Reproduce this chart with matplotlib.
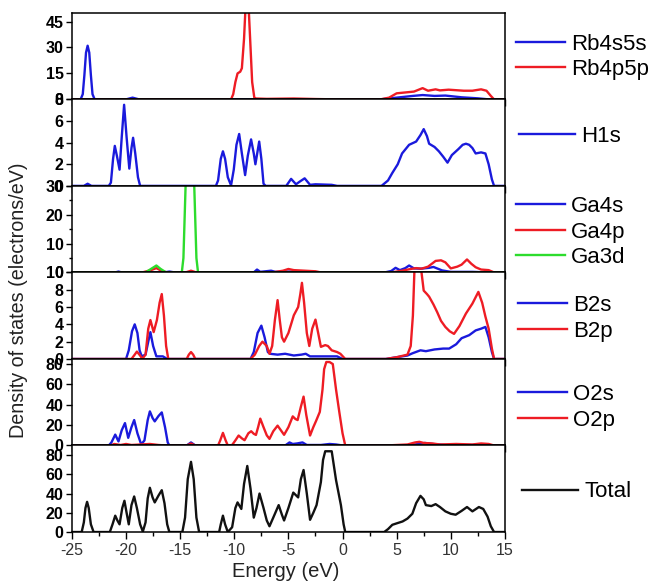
import numpy as np
import matplotlib
matplotlib.use("Agg")
import matplotlib.pyplot as plt
from matplotlib.ticker import MultipleLocator

plt.rcParams['font.family'] = ['Liberation Sans', 'DejaVu Sans']
plt.rcParams['axes.unicode_minus'] = False

BLUE = '#1a1adc'
RED = '#ee1c24'
GREEN = '#2ddc2d'
BLACK = '#111111'

# ---- panel 1 : Rb ----
rb_s_E = [-25, -24.2, -24.0, -23.85, -23.7, -23.55, -23.4, -23.25, -23.1, -22.9,
          -20.0, -19.4, -18.8, 3.5, 5.0, 6.5, 7.4, 8.5, 9.5, 11.0, 12.5, 13.5, 15]
rb_s = [0, 0, 3, 14, 27, 31, 27, 14, 3, 0,
        0, 1, 0, 0, 1.0, 2.0, 2.5, 2.0, 2.2, 1.2, 0.6, 0, 0]
rb_p_E = [-25, -10.3, -10.1, -9.9, -9.7, -9.45, -9.3, -9.1, -8.95, -8.8, -8.65, -8.5,
          -8.35, -8.15, -8.0, -7.0, -4.5, -2.5, -0.5, 3.5, 4.3, 5.0, 5.8, 6.6, 7.4,
          7.9, 8.6, 9.0, 9.8, 10.5, 11.2, 12.0, 12.8, 13.3, 13.7, 14.0, 15]
rb_p = [0, 0, 3, 10, 15, 16, 18, 35, 55, 60, 50, 30,
        10, 1, 0.5, 0.3, 0.5, 0.2, 0, 0, 1.0, 3.5, 4.0, 4.5, 6.5,
        5.0, 5.8, 5.2, 5.6, 5.3, 5.0, 5.0, 5.8, 5.0, 2.0, 0, 0]

# ---- panel 2 : H ----
h_E = [-25, -23.9, -23.55, -23.2, -21.6, -21.4, -21.2, -21.04, -20.85, -20.6, -20.4,
       -20.18, -19.95, -19.7, -19.5, -19.35, -19.15, -18.9, -18.7, -11.7, -11.5,
       -11.25, -11.05, -10.85, -10.6, -10.3, -10.05, -9.8, -9.55, -9.3, -9.0, -8.75,
       -8.45, -8.2, -8.05, -7.85, -7.7, -7.5, -7.3, -7.1, -5.2, -4.75, -4.3, -3.95,
       -3.5, -3.0, -2.5, -1.0, -0.5, 3.6, 4.2, 4.6, 5.1, 5.5, 6.15, 6.8, 7.2, 7.5,
       7.8, 8.0, 8.5, 8.9, 9.3, 9.7, 10.1, 10.7, 11.1, 11.4, 11.7, 12.0, 12.3, 12.8,
       13.2, 13.5, 13.8, 14.0, 15]
h_1s = [0, 0, 0.2, 0, 0, 0.3, 2.5, 3.7, 2.8, 1.5, 4.5,
        7.5, 4.5, 1.6, 3.5, 4.45, 3.0, 0.8, 0, 0, 0.5,
        2.5, 3.2, 2.5, 0.8, 0.05, 1.5, 3.8, 4.8, 3.0, 1.0, 2.8,
        4.3, 3.0, 2.0, 3.2, 4.1, 2.5, 0.2, 0, 0, 0.65, 0.15, 0.4,
        0.7, 0.1, 0.15, 0.1, 0, 0, 0.5, 1.2, 2.0, 3.0, 3.8, 4.1, 4.7, 5.25,
        4.6, 3.9, 3.6, 3.2, 2.7, 2.15, 2.85, 3.4, 3.8, 3.9, 3.8, 3.5, 3.0, 3.1,
        3.0, 2.0, 0.6, 0, 0]

# ---- panel 3 : Ga ----
ga_s_E = [-25, -21, -20.7, -20.4, -16.5, -16.0, -15.5, -8.2, -7.9, -7.6, -6.6, -6.2,
          -5, -2, 3.9, 4.5, 4.9, 5.3, 5.8, 6.15, 6.6, 7.2, 8.0, 8.4, 9.2, 10.0, 12,
          13.5, 15]
ga_s = [0, 0, 0.3, 0, 0, 0.3, 0, 0, 1.0, 0.2, 0.6, 0.2,
        0.3, 0, 0, 0.5, 1.6, 0.8, 1.5, 2.4, 1.4, 1.3, 1.6, 1.9, 0.7, 0.2, 0.2,
        0, 0]
ga_p_E = [-25, -18.5, -17.7, -17.2, -16.7, -16.2, -14.5, -14.0, -13.5, -6.5, -5.5,
          -5.0, -4.5, -3.5, -2.5, -2, 4.5, 5.5, 6.3, 6.8, 7.3, 7.9, 8.6, 9.1, 9.5,
          10.0, 10.6, 11.0, 11.5, 11.9, 12.3, 12.8, 13.5, 14.0, 15]
ga_p = [0, 0, 0.8, 1.5, 0.5, 0, 0, 0.6, 0, 0, 0.6,
        1.2, 0.8, 0.6, 0.4, 0, 0, 0.6, 1.2, 1.5, 1.3, 2.0, 4.0, 4.2, 3.5,
        1.4, 2.0, 2.7, 4.5, 3.0, 1.8, 1.0, 0.8, 0, 0]
ga_d_E = [-25, -18.2, -17.7, -17.2, -16.8, -16.3, -14.85, -14.7, -14.5, -14.3, -14.1,
          -13.9, -13.7, -13.5, -13.35, 15]
ga_d = [0, 0, 1.2, 2.4, 1.2, 0, 0, 5, 30, 60, 75,
        60, 30, 5, 0, 0]

# ---- panel 4 : B ----
b_s_E = [-25, -20.0, -19.75, -19.45, -19.2, -18.95, -18.75, -18.55, -18.2, -17.95,
         -17.75, -17.5, -17.2, -16.6, -16.2, -8.5, -8.2, -7.85, -7.5, -7.2, -6.9,
         -6.7, -6.0, -5.3, -4.5, -3.8, -3.4, -3.0, -1.5, -0.5, 0, 4.0, 5.0, 6.0,
         6.45, 7.2, 7.7, 8.5, 9.3, 9.85, 10.5, 11.0, 11.7, 12.3, 12.8, 13.2, 13.5,
         13.8, 14.0, 15]
b_s = [0, 0, 1.0, 3.2, 4.0, 3.0, 1.0, 0.3, 0.5, 2.0,
       3.1, 1.5, 0.3, 0.3, 0, 0, 0.8, 3.0, 3.85, 2.5, 0.8,
       0.6, 0.5, 0.6, 0.4, 0.5, 0.6, 0.3, 0.3, 0.3, 0, 0, 0.2, 0.4,
       0.65, 1.0, 0.9, 1.1, 1.2, 1.2, 1.7, 2.4, 2.75, 3.3, 3.5, 3.7, 2.5,
       0.8, 0, 0]
b_p_E = [-25, -19.5, -19.2, -19.0, -18.7, -18.5, -18.2, -17.95, -17.75, -17.45,
         -17.15, -16.9, -16.7, -16.5, -16.3, -16.1, -14.4, -14.2, -14.0, -13.8,
         -13.6, -8.5, -8.1, -7.7, -7.4, -7.0, -6.75, -6.5, -6.25, -6.0, -5.8, -5.6,
         -5.4, -5.0, -4.5, -4.1, -3.9, -3.75, -3.55, -3.3, -3.07, -2.8, -2.5, -2.25,
         -2.0, -1.6, -1.35, -1.0, -0.5, -0.2, 0.25, 4.0, 5.0, 6.0, 6.3, 6.5, 6.65,
         6.9, 7.2, 7.5, 7.8, 8.0, 8.4, 8.75, 9.1, 9.5, 9.9, 10.3, 10.8, 11.4, 12.0,
         12.55, 12.9, 13.2, 13.5, 13.8, 14.0, 15]
b_p = [0, 0, 0.5, 0.85, 0.4, 0, 0.5, 3.5, 4.5, 3.1,
       4.5, 6.5, 7.5, 5.0, 1.5, 0, 0, 0.5, 0.8, 0.5,
       0, 0, 0.5, 1.5, 2.0, 1.5, 0.6, 1.5, 4.5, 6.8, 4.5, 2.5,
       2.0, 3.0, 5.05, 6.0, 7.5, 8.8, 6.5, 3.0, 1.5, 3.5, 4.55, 3.0,
       1.4, 1.6, 1.5, 1.0, 0.8, 0.6, 0, 0, 0.2, 0.5, 1.5, 5.0, 10.5,
       12.0, 11.0, 7.9, 7.5, 7.2, 6.3, 5.4, 4.4, 3.7, 3.2, 2.9, 3.8, 5.25, 6.4,
       7.75, 6.5, 4.9, 3.5, 1.2, 0, 0]

# ---- panel 5 : O ----
o_s_E = [-25, -21.6, -21.35, -21.0, -20.7, -20.4, -20.1, -19.8, -19.5, -19.25,
         -18.95, -18.6, -18.3, -18.0, -17.8, -17.55, -17.35, -17.0, -16.7, -16.4,
         -16.15, -16.0, -14.4, -14.0, -13.6, -5.3, -4.9, -4.6, -4.2, -3.7, -3.3,
         -2.0, -1.2, -0.6, 0, 6.0, 7.0, 7.6, 8.3, 9.5, 12, 13, 14, 15]
o_s = [0, 0, 3, 10.7, 4, 15, 22, 7.5, 18, 25,
       12, 1, 5, 25, 33.5, 27, 23.7, 29, 32.5, 18,
       3, 0, 0, 3, 0, 0, 3, 1.5, 2.0, 3.0, 0.5,
       0.5, 1.5, 1.0, 0, 0, 1.5, 2.5, 1.5, 0.5, 0.5, 1, 0, 0]
o_p_E = [-25, -21.4, -21.1, -20.5, -20.0, -19.5, -17.8, -17, -16.3, -14.4, -14.0,
         -13.6, -11.5, -11.3, -11.05, -10.8, -10.6, -10.2, -9.9, -9.6, -9.3, -9.05,
         -8.7, -8.44, -8.2, -8.0, -7.8, -7.6, -7.3, -7.0, -6.75, -6.4, -6.0, -5.7,
         -5.4, -5.0, -4.6, -4.35, -4.15, -3.85, -3.6, -3.35, -3.0, -2.7, -2.45, -2.1,
         -1.85, -1.7, -1.5, -1.2, -0.9, -0.6, -0.3, 0.0, 0.25, 4.0, 5.0, 6.0, 6.7,
         7.1, 7.5, 8.3, 9.0, 10.5, 12.0, 12.8, 13.5, 14.0, 15]
o_p = [0, 0, 1.5, 0.5, 1.5, 0.5, 1.5, 0.5, 0, 0, 2,
       0, 0, 5, 12.4, 5, 0, 0.5, 5, 9.8, 7, 5.2,
       12, 14, 11.5, 10.4, 18, 26.4, 18, 10, 6.5, 14, 19.5, 15,
       10.5, 18, 28.6, 26, 25, 38, 48, 30, 9.8, 18, 24, 33,
       55, 75, 82, 82, 80, 55, 33, 12, 0, 0, 0.5, 1.0, 3.0,
       3.6, 2.5, 2.0, 1.0, 1.5, 1.0, 2.0, 1.5, 0, 0]

# ---- panel 6 : total ----
tot_E = [-25, -24.1, -23.9, -23.75, -23.6, -23.45, -23.25, -23.0, -21.5, -21.25,
         -21.0, -20.8, -20.6, -20.35, -20.15, -19.95, -19.75, -19.5, -19.25, -19.0,
         -18.7, -18.45, -18.2, -18.0, -17.8, -17.55, -17.35, -17.0, -16.7, -16.45,
         -16.2, -16.0, -14.8, -14.55, -14.3, -14.0, -13.75, -13.5, -13.25, -11.4,
         -11.25, -11.05, -10.85, -10.6, -10.2, -9.9, -9.7, -9.35, -9.1, -8.8, -8.5,
         -8.2, -7.95, -7.67, -7.3, -7.0, -6.75, -6.4, -5.9, -5.6, -5.4, -5.0, -4.55,
         -4.1, -3.85, -3.6, -3.3, -3.0, -2.7, -2.4, -2.0, -1.8, -1.6, -1.0, -0.6,
         -0.15, 0.1, 0.25, 3.85, 4.2, 4.6, 5.0, 5.55, 6.0, 6.45, 6.8, 7.2, 7.5, 7.7,
         8.2, 8.6, 9.0, 9.5, 10.0, 10.45, 11.0, 11.5, 12.0, 12.6, 13.0, 13.4, 13.7,
         14.0, 15]
tot = [0, 0, 10, 25, 31.4, 25, 8, 0, 0, 8,
       17, 12, 8, 25, 32.5, 20, 8, 28, 37, 25,
       8, 0.5, 10, 35, 46, 36, 30.8, 38, 43.5, 30,
       8, 0, 0, 15, 55, 73, 55, 15, 0, 0,
       8, 17, 8, 0, 5, 25, 30.8, 24, 50, 68.7, 45,
       15, 25, 40, 25, 12, 6, 15, 28, 18, 12, 25, 41,
       36, 55, 64.5, 40, 12.7, 20, 28, 52, 75, 84, 84, 54,
       28, 8, 0, 0, 3, 7.5, 9, 11, 14, 19, 30, 37.6, 34, 28,
       27, 29, 26, 21.5, 19, 18, 22, 26, 21.5, 26, 24, 16, 6,
       0, 0]

panels = [
    ([(rb_s_E, rb_s, BLUE, 'Rb4s5s'), (rb_p_E, rb_p, RED, 'Rb4p5p')],
     50, [0, 15, 30, 45], None, 1.025, 0.49, 2.2),
    ([(h_E, h_1s, BLUE, 'H1s')],
     8, [0, 2, 4, 6, 8], None, 1.033, 0.575, 2.5),
    ([(ga_s_E, ga_s, BLUE, 'Ga4s'), (ga_p_E, ga_p, RED, 'Ga4p'),
      (ga_d_E, ga_d, GREEN, 'Ga3d')],
     30, [0, 10, 20, 30], 5, 1.025, 0.465, 2.2),
    ([(b_s_E, b_s, BLUE, 'B2s'), (b_p_E, b_p, RED, 'B2p')],
     10, [0, 2, 4, 6, 8, 10], None, 1.03, 0.47, 2.2),
    ([(o_s_E, o_s, BLUE, 'O2s'), (o_p_E, o_p, RED, 'O2p')],
     85, [0, 20, 40, 60, 80], None, 1.03, 0.44, 2.2),
    ([(tot_E, tot, BLACK, 'Total')],
     90, [0, 20, 40, 60, 80], None, 1.04, 0.465, 2.5),
]

fig, axes = plt.subplots(6, 1, sharex=True, figsize=(6.54, 5.84), dpi=100)
fig.subplots_adjust(left=0.110, right=0.772, top=0.978, bottom=0.089, hspace=0)

for ax, (curves, ytop, yticks, yminor, lx, ly, hl) in zip(axes, panels):
    for E, d, c, lab in curves:
        ax.plot(E, d, color=c, lw=1.7, label=lab)
    ax.set_ylim(0, ytop)
    ax.set_yticks(yticks)
    if yminor:
        ax.yaxis.set_minor_locator(MultipleLocator(yminor))
    ax.set_xlim(-25, 15)
    ax.xaxis.set_major_locator(MultipleLocator(5))
    ax.xaxis.set_minor_locator(MultipleLocator(2.5))
    ax.tick_params(axis='x', which='major', direction='out', length=5, width=1.0)
    ax.tick_params(axis='x', which='minor', direction='out', length=3, width=1.0)
    ax.tick_params(axis='y', which='major', direction='out', length=4, width=1.0,
                   labelsize=11.5, pad=2)
    ax.tick_params(axis='y', which='minor', direction='out', length=2.5, width=1.0)
    for t in ax.get_yticklabels():
        t.set_fontweight('bold')
    for s in ax.spines.values():
        s.set_linewidth(1.1)
    ax.legend(loc='center left', bbox_to_anchor=(lx, ly), frameon=False,
              fontsize=16, handlelength=hl, handletextpad=0.3,
              labelspacing=0.2, borderpad=0, borderaxespad=0)

axes[-1].tick_params(axis='x', labelsize=11.5, labelcolor='#333333', pad=3)

fig.text(0.028, 0.486, 'Density of states (electrons/eV)', rotation=90,
         ha='center', va='center', fontsize=14.2, color='#222222')
fig.text(0.437, 0.021, 'Energy (eV)', ha='center', va='center',
         fontsize=14.5, color='#222222')

fig.savefig('out.png', dpi=100)
